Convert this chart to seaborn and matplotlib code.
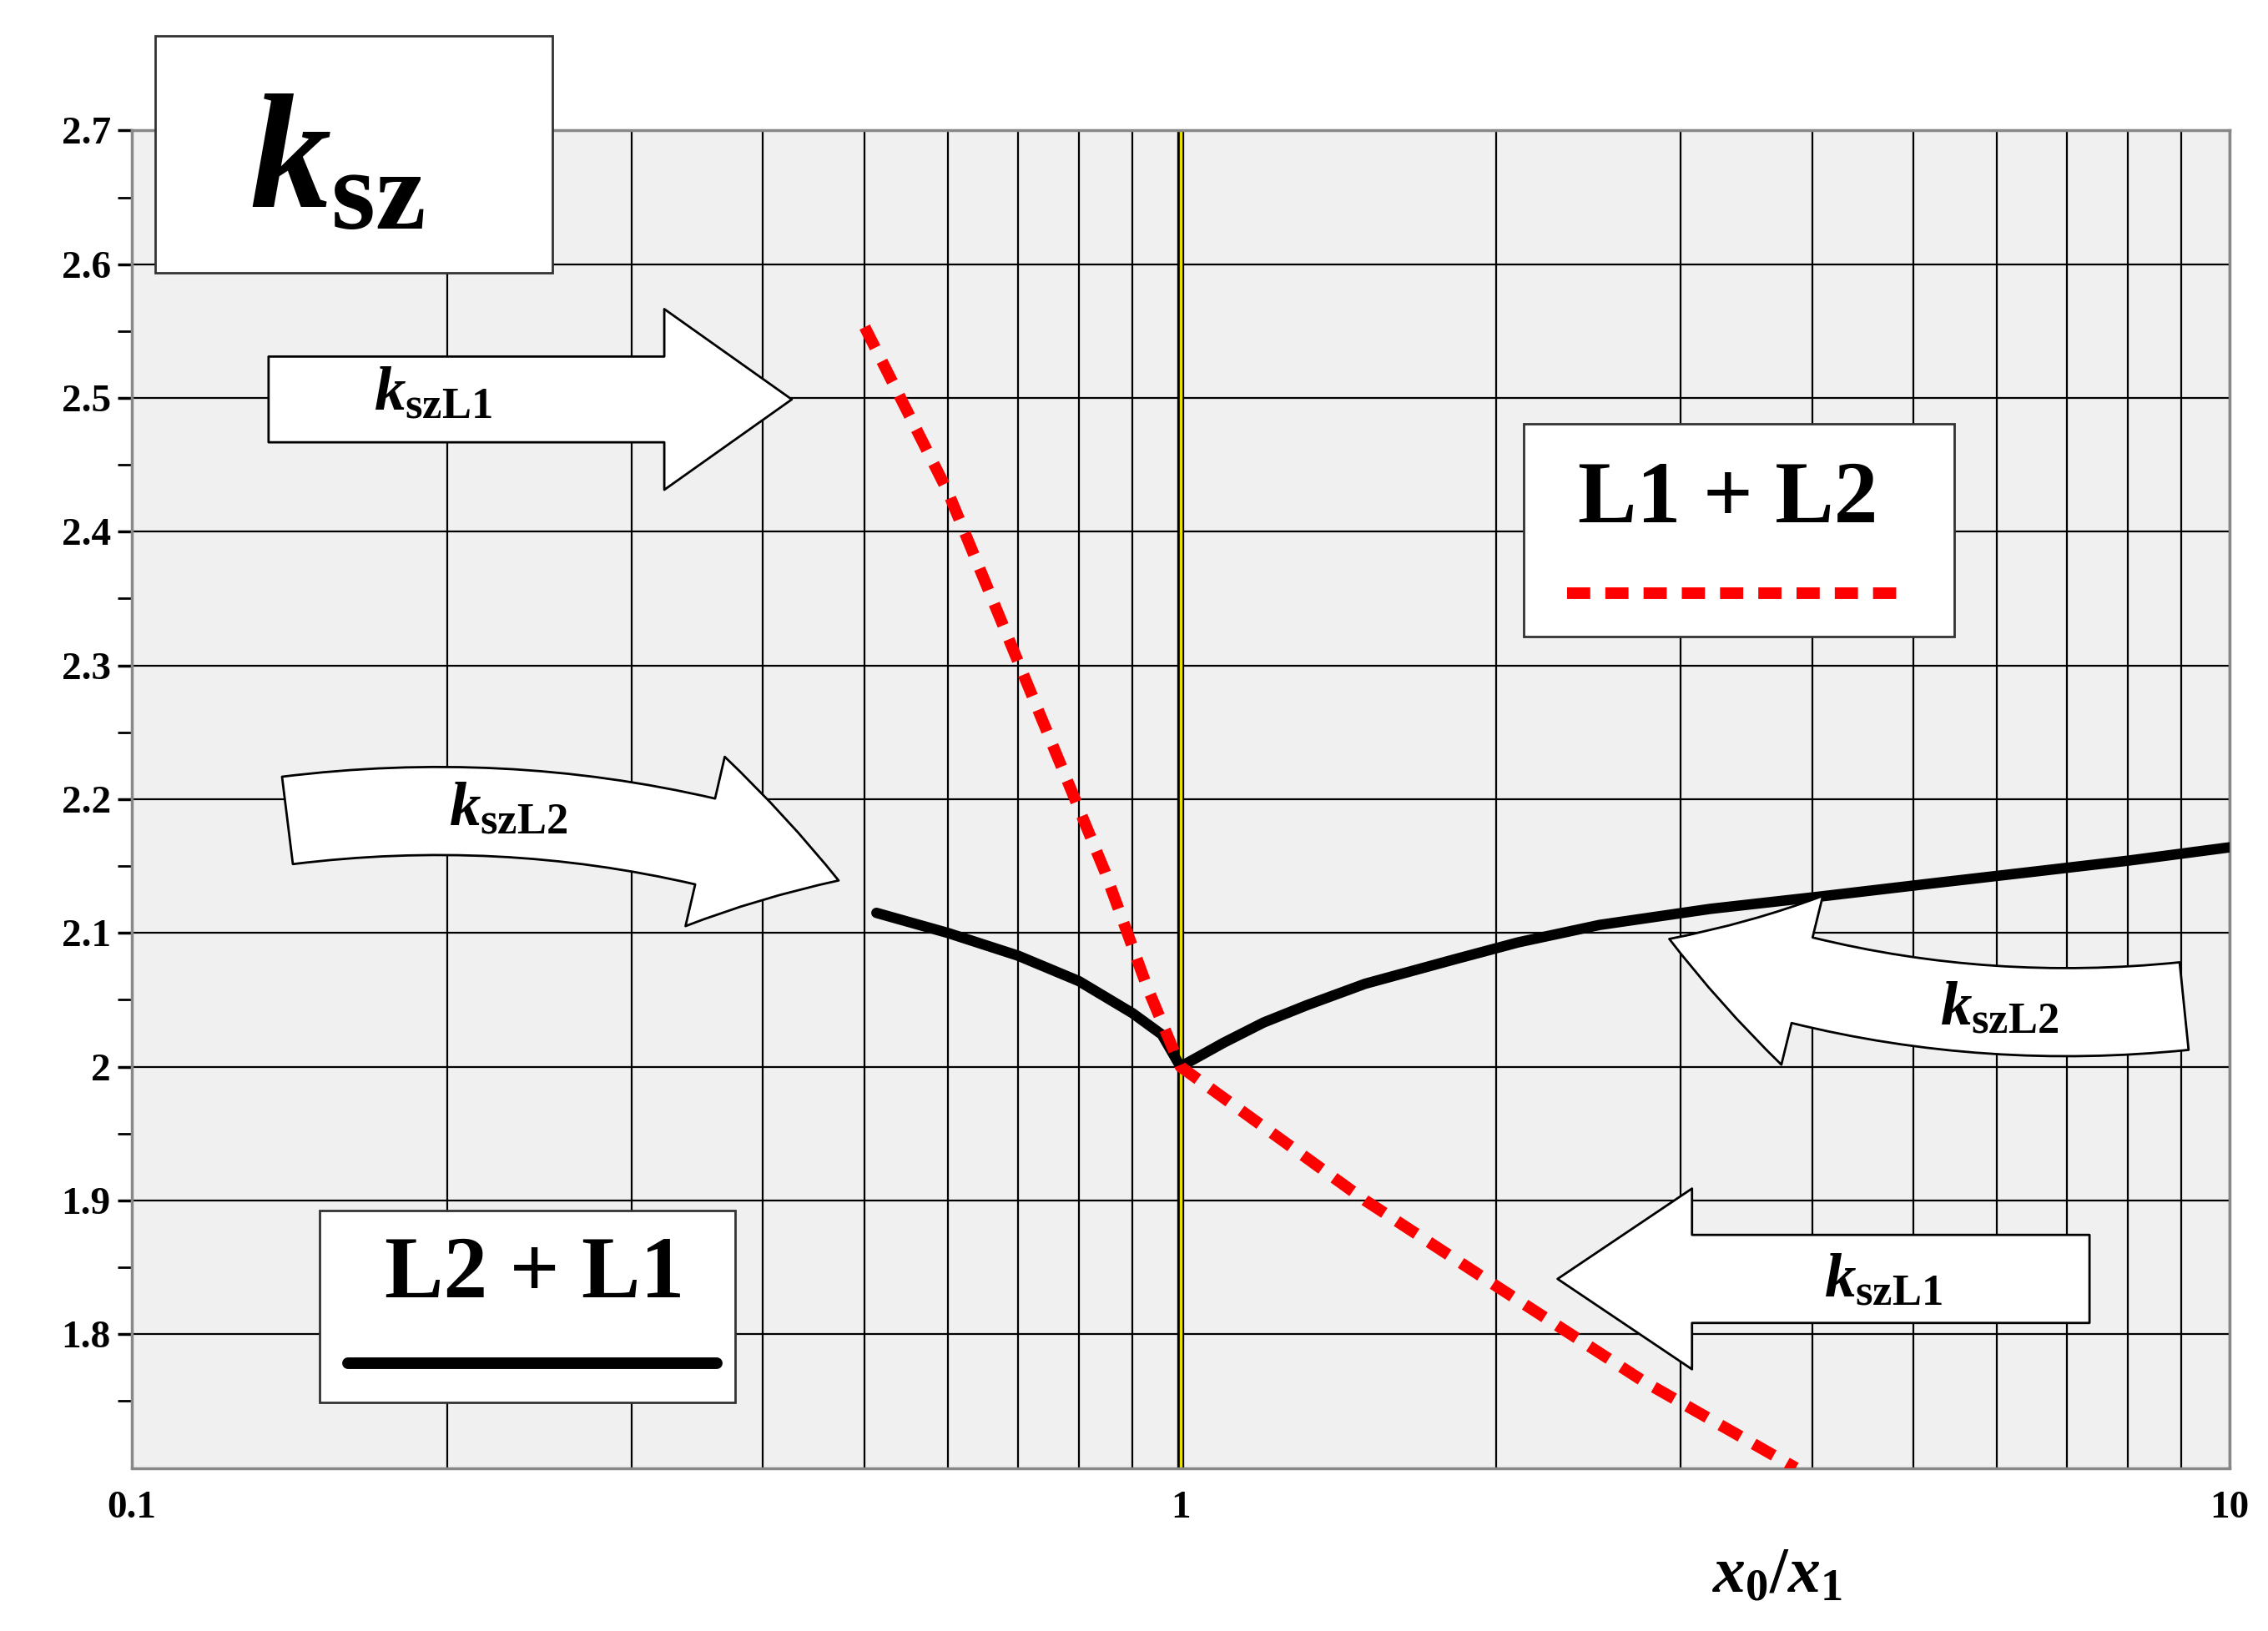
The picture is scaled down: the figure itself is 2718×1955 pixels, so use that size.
import numpy as np
import matplotlib
matplotlib.use("Agg")
import matplotlib.pyplot as plt
import seaborn as sns
from matplotlib.patches import Rectangle, FancyArrowPatch
from matplotlib.lines import Line2D
from matplotlib.ticker import FixedLocator, NullFormatter

sns.set_theme(style="white")
plt.rcParams['font.family'] = ['Liberation Serif', 'DejaVu Serif']
plt.rcParams['text.color'] = 'black'
plt.rcParams['xtick.color'] = 'black'
plt.rcParams['ytick.color'] = 'black'
plt.rcParams['mathtext.fontset'] = 'custom'
plt.rcParams['mathtext.rm'] = 'Liberation Serif:bold'
plt.rcParams['mathtext.it'] = 'Liberation Serif:bold:italic'
plt.rcParams['mathtext.bf'] = 'Liberation Serif:bold'

# data
red_x = [0.5, 0.6, 0.70, 0.847, 0.93, 1.0, 1.25, 1.5, 2.0, 2.76, 3.86]
red_y = [2.553, 2.43, 2.303, 2.146, 2.059, 2.0, 1.945, 1.90, 1.836, 1.765, 1.70]
blk_x = [0.513, 0.60, 0.70, 0.80, 0.90, 0.96, 1.0, 1.10, 1.20, 1.32, 1.50, 1.82, 2.10, 2.51, 3.20, 4.05, 5.20, 6.54, 8.0, 10.0]
blk_y = [2.115, 2.100, 2.083, 2.064, 2.040, 2.024, 2.0, 2.018, 2.033, 2.046, 2.062, 2.080, 2.093, 2.106, 2.118, 2.127, 2.137, 2.146, 2.154, 2.164]
yticks = [1.8, 1.9, 2.0, 2.1, 2.2, 2.3, 2.4, 2.5, 2.6, 2.7]
ytick_labels = ["1.8", "1.9", "2", "2.1", "2.2", "2.3", "2.4", "2.5", "2.6", "2.7"]
xticks = [0.1, 1, 10]
xtick_labels = ["0.1", "1", "10"]

fig = plt.figure(figsize=(13.59, 9.775), dpi=200)
ax = fig.add_axes([0.058, 0.10, 0.925, 0.82])
ax.set_facecolor('#f0f0f0')
ax.set_xscale('log')
ax.set_xlim(0.1, 10)
ax.set_ylim(1.7, 2.7)
minors = [m * d for d in (0.1, 1) for m in range(2, 10)]
ax.xaxis.set_minor_locator(FixedLocator(minors))
ax.xaxis.set_minor_formatter(NullFormatter())
ax.set_xticks(xticks)
ax.set_xticklabels(xtick_labels, fontsize=17, fontweight='bold')
ax.set_yticks(yticks)
ax.set_yticklabels(ytick_labels, fontsize=17, fontweight='bold')
ax.yaxis.set_minor_locator(FixedLocator(np.arange(1.75, 2.7, 0.1)))
ax.tick_params(axis='y', which='both', left=True, length=6, color='black', pad=3)
ax.tick_params(axis='x', which='major', bottom=False, pad=4)
ax.grid(True, which='both', axis='x', color='black', lw=0.8)
ax.grid(True, which='major', axis='y', color='black', lw=0.8)
for s in ax.spines.values():
    s.set_color('#888888')

ax.axvline(1, color='black', lw=3, zorder=2)
ax.axvline(1, color='#e8e000', lw=1.2, zorder=2)

sns.lineplot(x=blk_x, y=blk_y, ax=ax, color='black', lw=4.5, zorder=3)
sns.lineplot(x=red_x, y=red_y, ax=ax, color='red', lw=5, zorder=4,
             dashes=False, linestyle=(0, (2, 1.3)))

def af(px, py):
    return ((px - 91) / 1442, (1010 - py) / 920)

lab = lambda s: r'$k_{\rm ' + s + '}$'

def arrow(p0, p1, rad, hl, hw, tw, txt, tpos):
    a = FancyArrowPatch(af(*p0), af(*p1), transform=ax.transAxes,
                        arrowstyle=f"simple,head_length={hl},head_width={hw},tail_width={tw}",
                        connectionstyle=f"arc3,rad={rad}", mutation_scale=1,
                        facecolor='white', edgecolor='black', lw=1, zorder=6)
    ax.add_patch(a)
    ax.text(*af(*tpos), lab(txt), transform=ax.transAxes, fontsize=27,
            ha='center', va='center', zorder=7)

arrow((182, 275), (548, 275), 0, 55, 78, 37, 'szL1', (298, 272))
arrow((195, 565), (580, 607), -0.12, 60, 75, 38, 'szL2', (350, 558))
arrow((1505, 692), (1145, 645), -0.12, 60, 75, 38, 'szL2', (1375, 695))
arrow((1440, 880), (1068, 880), 0, 58, 78, 38, 'szL1', (1295, 882))

def box(x0, y0, x1, y1):
    (ax0, ay1), (ax1, ay0) = af(x0, y0), af(x1, y1)
    r = Rectangle((ax0, ay0), ax1 - ax0, ay1 - ay0, transform=ax.transAxes,
                  facecolor='white', edgecolor='#333333', lw=1, zorder=6, clip_on=False)
    ax.add_patch(r)

box(1048, 292, 1344, 438)
ax.text(*af(1188, 345), "L1 + L2", transform=ax.transAxes, fontsize=38,
        fontweight='bold', ha='center', va='center', zorder=7)
(lx0, ly), (lx1, _) = af(1078, 408), af(1310, 408)
ax.add_line(Line2D([lx0, lx1], [ly, ly], transform=ax.transAxes, color='red',
                   lw=5, linestyle=(0, (2, 1.3)), zorder=7))

box(220, 833, 506, 965)
ax.text(*af(368, 878), "L2 + L1", transform=ax.transAxes, fontsize=38,
        fontweight='bold', ha='center', va='center', zorder=7)
(lx0, ly), (lx1, _) = af(240, 938), af(493, 938)
ax.add_line(Line2D([lx0, lx1], [ly, ly], transform=ax.transAxes, color='black',
                   lw=5, zorder=7))

box(107, 25, 380, 188)
ax.text(*af(232, 115), r'$k_{\rm sz}$', transform=ax.transAxes, fontsize=70,
        ha='center', va='center', zorder=7)

ax.text(*af(1222, 1085), r'$x_0/x_1$', transform=ax.transAxes, fontsize=28,
        ha='center', va='center')

fig.savefig("out.png", dpi=200, facecolor='white')
